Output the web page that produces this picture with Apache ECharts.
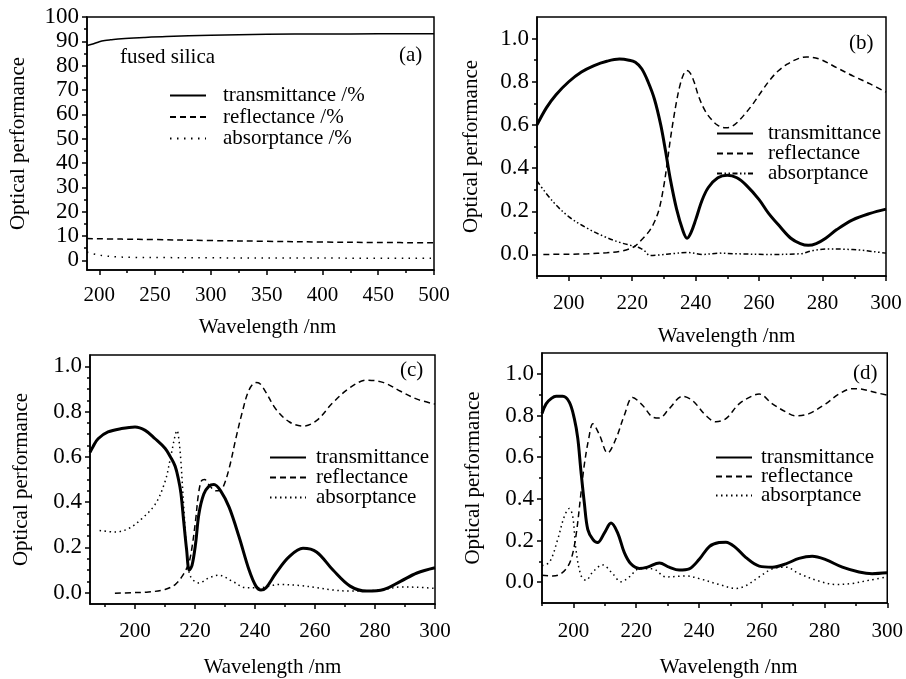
<!DOCTYPE html>
<html>
<head>
<meta charset="utf-8">
<script src="https://cdn.jsdelivr.net/npm/echarts@6/dist/echarts.min.js"></script>
<style>
html,body{margin:0;padding:0;background:#fff;}
#chart{width:906px;height:679px;}
</style>
</head>
<body>
<div id="chart"></div>
<script>
// ---------------- DATA ----------------
// Panel (a): fused silica, percent
const a_transmittance = [[189,88.3],[195,89.0],[200,89.8],[205,90.3],[210,90.6],[220,91.1],[240,91.6],[260,92.0],[300,92.5],[350,92.9],[400,93.0],[450,93.1],[500,93.1]];
const a_reflectance = [[189,8.9],[220,8.7],[250,8.5],[300,8.1],[350,7.8],[400,7.5],[450,7.3],[500,7.2]];
const a_absorptance = [[189,3.4],[195,2.6],[200,2.1],[205,1.8],[215,1.4],[230,1.2],[260,1.1],[300,1.0],[400,0.9],[500,0.8]];

// Panel (b)
const b_transmittance = [[190,0.60],[193,0.68],[196,0.74],[200,0.80],[204,0.845],[208,0.875],[212,0.895],[216,0.905],[219,0.90],[221,0.89],[223,0.86],[225,0.80],[227,0.72],[229,0.60],[230.5,0.48],[232,0.35],[234,0.21],[236,0.11],[237.3,0.075],[238.5,0.10],[240,0.16],[242,0.25],[244,0.31],[247,0.355],[250,0.367],[253,0.355],[256,0.32],[260,0.254],[263,0.19],[266.5,0.13],[270,0.075],[273,0.05],[275.5,0.042],[278,0.05],[281,0.075],[284.5,0.115],[289.5,0.16],[295,0.19],[300,0.21]];
const b_reflectance = [[192,0.0],[200,0.001],[206,0.003],[212,0.008],[216,0.014],[219,0.025],[221,0.04],[223.5,0.076],[225.5,0.11],[227,0.15],[228.5,0.21],[230,0.32],[231,0.42],[232,0.53],[233,0.625],[234,0.71],[235,0.78],[236.2,0.835],[237.2,0.852],[238.3,0.84],[239.5,0.80],[241,0.73],[243,0.665],[245,0.625],[247,0.598],[249.3,0.587],[251,0.59],[253,0.61],[255.5,0.65],[258.2,0.70],[261,0.76],[263.5,0.81],[266,0.85],[268.7,0.88],[272,0.905],[275,0.915],[279,0.905],[284.5,0.865],[289.7,0.826],[295,0.79],[300,0.752]];
const b_absorptance = [[190,0.34],[195,0.245],[200,0.175],[205.7,0.122],[211,0.084],[216,0.056],[220,0.04],[222.4,0.03],[224,0.015],[225.6,-0.005],[228.8,-0.002],[233,0.004],[237.2,0.009],[242.4,0.0],[247.5,0.006],[252.9,0.003],[263.4,0.0],[273,0.003],[277,0.018],[282,0.025],[287,0.024],[292,0.02],[296,0.013],[300,0.006]];

// Panel (c)
const c_transmittance = [[185,0.62],[186,0.645],[187.7,0.68],[191,0.71],[195.5,0.725],[200,0.732],[203.4,0.717],[206.7,0.68],[210,0.638],[211.8,0.60],[213.4,0.558],[214.5,0.50],[215.3,0.44],[216.2,0.32],[217.2,0.19],[218.1,0.10],[219,0.12],[220.2,0.217],[221.3,0.348],[222.9,0.435],[224.6,0.47],[226.3,0.478],[228.6,0.449],[231.4,0.377],[234.7,0.246],[238,0.101],[240.3,0.029],[242,0.012],[243.7,0.022],[247,0.087],[251.5,0.16],[256,0.196],[260.5,0.18],[266,0.10],[271.7,0.029],[277.3,0.007],[282.9,0.014],[288.5,0.05],[294,0.087],[300,0.11]];
const c_reflectance = [[193.3,-0.003],[198.9,0],[204.5,0.003],[210,0.014],[213.4,0.036],[215.7,0.072],[217.9,0.13],[219,0.2],[220.2,0.32],[221.2,0.44],[222.2,0.495],[223.2,0.50],[224.6,0.478],[226.9,0.45],[228.3,0.452],[229.5,0.47],[231.4,0.55],[233.6,0.68],[235.8,0.80],[238,0.895],[240.3,0.928],[241.5,0.925],[243.7,0.884],[247,0.81],[251.5,0.754],[256,0.736],[260.5,0.76],[266,0.84],[271.7,0.906],[277.3,0.939],[282.9,0.928],[288.5,0.89],[294,0.855],[300,0.833]];
const c_absorptance = [[188.2,0.275],[193.3,0.268],[197.8,0.283],[202.2,0.326],[206.7,0.39],[210,0.49],[211.8,0.594],[213.4,0.696],[214,0.717],[214.6,0.68],[215.3,0.58],[216.2,0.39],[217.4,0.16],[218.5,0.072],[221.3,0.043],[224.6,0.065],[228,0.077],[232.5,0.05],[237,0.022],[241.4,0.022],[248.2,0.036],[254.9,0.032],[260.5,0.022],[266,0.012],[271.7,0.007],[277,0.008],[282.9,0.014],[288.5,0.025],[294,0.024],[300,0.019]];

// Panel (d)
const d_transmittance = [[190,0.81],[191.3,0.856],[193,0.882],[194.5,0.892],[196.6,0.892],[198.7,0.864],[200.3,0.785],[201.4,0.69],[202.4,0.534],[203.5,0.378],[204.6,0.252],[206.2,0.205],[207.7,0.19],[209.9,0.237],[212,0.284],[214.1,0.237],[216.2,0.143],[218.3,0.088],[221,0.066],[223.6,0.072],[227.4,0.092],[230.5,0.072],[233.7,0.058],[236.9,0.064],[240.1,0.11],[243.3,0.171],[246.4,0.19],[248.6,0.192],[251.7,0.166],[254.9,0.119],[259.2,0.077],[263.4,0.072],[267.7,0.088],[271.9,0.114],[276.1,0.124],[280.4,0.108],[285.7,0.072],[291,0.049],[295.2,0.041],[300,0.045]];
const d_reflectance = [[190,0.033],[193.4,0.03],[195.5,0.036],[197.7,0.064],[199.3,0.111],[200.8,0.22],[202.4,0.425],[203.5,0.566],[204.9,0.69],[206.2,0.76],[208.3,0.707],[210.9,0.62],[213.6,0.69],[216.2,0.80],[218.9,0.887],[222.1,0.848],[225.2,0.793],[227.4,0.788],[230.5,0.832],[234.8,0.892],[238,0.871],[242.2,0.80],[245.4,0.77],[248.6,0.785],[252.8,0.856],[257.1,0.895],[259.2,0.903],[263.4,0.856],[267.7,0.817],[270.8,0.798],[275.1,0.809],[280.4,0.856],[284.6,0.903],[288.9,0.929],[292,0.926],[296.3,0.91],[300,0.898]];
const d_absorptance = [[190,0.08],[192.4,0.096],[195,0.205],[197.1,0.315],[198.7,0.354],[199.8,0.315],[200.8,0.158],[202.4,0.033],[204,0.009],[206.2,0.049],[209.3,0.083],[212.5,0.041],[215.2,0.002],[217.8,0.025],[221,0.064],[225.2,0.064],[229.5,0.025],[235.8,0.03],[240.1,0.017],[246.4,-0.011],[251.7,-0.03],[254.9,-0.017],[259.2,0.025],[263.4,0.064],[267.7,0.072],[271.9,0.041],[278.3,0.005],[283.6,-0.011],[288.9,-0.006],[294.2,0.009],[300,0.025]];

// Tick values
const a_xMajor = [200,250,300,350,400,450,500];
const a_xMinor = [225,275,325,375,425,475];
const a_yMajor = [0,10,20,30,40,50,60,70,80,90,100];
const a_yMinor = [5,15,25,35,45,55,65,75,85,95];
const bcd_xMajor = [200,220,240,260,280,300];
const bcd_xMinor = [190,210,230,250,270,290];
const bcd_yMajor = [0,0.2,0.4,0.6,0.8,1.0];
const bd_yMinor = [0.1,0.3,0.5,0.7,0.9];
const c_yMinor = [0.05,0.1,0.15,0.25,0.3,0.35,0.45,0.5,0.55,0.65,0.7,0.75,0.85,0.9,0.95];

// Labels
const a_names = ['transmittance /%','reflectance /%','absorptance /%'];
const names = ['transmittance','reflectance','absorptance'];
const panelLabels = ['(a)','(b)','(c)','(d)'];
const xTitle = 'Wavelength /nm';
const yTitle = 'Optical performance';

// ---------------- LAYOUT / STYLE ----------------
const FONT = 'Liberation Serif';
const FS = 21;
const grids = [
  {left:87, top:17, width:347, height:253},
  {left:537, top:17, width:349, height:259},
  {left:90, top:355, width:345, height:253},
  {left:542, top:353, width:346, height:254}
];
const xRanges = [[189,500],[190,300],[185,300],[190,300]];
const yRanges = [[-4,100],[-0.1,1.1],[-0.05,1.05],[-0.1,1.1]];
const xMajors = [a_xMajor,bcd_xMajor,bcd_xMajor,bcd_xMajor];
const xMinors = [a_xMinor,bcd_xMinor,bcd_xMinor,bcd_xMinor];
const yMajors = [a_yMajor,bcd_yMajor,bcd_yMajor,bcd_yMajor];
const yMinors = [a_yMinor,bd_yMinor,c_yMinor,bd_yMinor];
const xLabelMargin = [15,17,17,18];
const xNameGap = [47,50,53,54];
const xNamePad = [14,30,20,28];
const yNameGap = [58,55,58,58];

const xAxes = [], yAxes = [];
grids.forEach((g,i)=>{
  const yFmt = i===0 ? (v=>String(Math.round(v))) : (v=>v.toFixed(1));
  xAxes.push({
    gridIndex:i, type:'value', position:'bottom', min:xRanges[i][0], max:xRanges[i][1],
    axisLine:{show:true, onZero:false, lineStyle:{color:'#000', width:1.5}},
    axisTick:{show:true, inside:false, length:5, lineStyle:{color:'#000', width:1.5}, customValues:xMajors[i]},
    axisLabel:{show:true, customValues:xMajors[i], margin:xLabelMargin[i], color:'#000', fontFamily:FONT, fontSize:FS},
    splitLine:{show:false},
    name:xTitle, nameLocation:'middle', nameGap:xNameGap[i],
    nameTextStyle:{color:'#000', fontFamily:FONT, fontSize:FS, padding:[0,0,0,xNamePad[i]]}
  });
  xAxes.push({
    gridIndex:i, type:'value', position:'bottom', min:xRanges[i][0], max:xRanges[i][1],
    axisLine:{show:false, onZero:false},
    axisTick:{show:true, inside:false, length:3, lineStyle:{color:'#000', width:1.5}, customValues:xMinors[i]},
    axisLabel:{show:false}, splitLine:{show:false}
  });
  yAxes.push({
    gridIndex:i, type:'value', position:'left', min:yRanges[i][0], max:yRanges[i][1],
    axisLine:{show:true, onZero:false, lineStyle:{color:'#000', width:1.5}},
    axisTick:{show:true, inside:false, length:5, lineStyle:{color:'#000', width:1.5}, customValues:yMajors[i]},
    axisLabel:{show:true, customValues:yMajors[i], margin:8, color:'#000', fontFamily:FONT, fontSize:23, formatter:yFmt},
    splitLine:{show:false},
    name:yTitle, nameLocation:'middle', nameGap:yNameGap[i],
    nameTextStyle:{color:'#000', fontFamily:FONT, fontSize:FS}
  });
  yAxes.push({
    gridIndex:i, type:'value', position:'left', min:yRanges[i][0], max:yRanges[i][1],
    axisLine:{show:false, onZero:false},
    axisTick:{show:true, inside:false, length:3, lineStyle:{color:'#000', width:1.5}, customValues:yMinors[i]},
    axisLabel:{show:false}, splitLine:{show:false}
  });
});

const DASH = [6,4];
const DOT = [1.5,3.5];
const DASHDOTDOT = [5,2.5,1.5,2.5,1.5,2.5];
const panelData = [
  [a_transmittance,a_reflectance,a_absorptance],
  [b_transmittance,b_reflectance,b_absorptance],
  [c_transmittance,c_reflectance,c_absorptance],
  [d_transmittance,d_reflectance,d_absorptance]
];
const styles = [
  [{width:1.5,type:'solid'},{width:1.5,type:DASH},{width:1.5,type:[1.5,5.5]}],
  [{width:3,type:'solid'},{width:1.5,type:DASH},{width:1.5,type:DASHDOTDOT}],
  [{width:3,type:'solid'},{width:1.5,type:DASH},{width:1.5,type:DOT}],
  [{width:3,type:'solid'},{width:1.5,type:DASH},{width:1.5,type:DOT}]
];
const series = [];
panelData.forEach((arr,i)=>{
  arr.forEach((d,k)=>{
    const nm = (i===0 ? a_names[k] : names[k]);
    series.push({
      name: 'p'+i+':'+nm, type:'line', xAxisIndex:2*i, yAxisIndex:2*i,
      data:d, symbol:'none', smooth:0.35, silent:true, animation:false,
      color:'#000',
      lineStyle:{color:'#000', width:styles[i][k].width, type:styles[i][k].type}
    });
  });
});

const legendPos = [
  {left:169, top:85, gap:0.5, pad:12},
  {left:716, top:123, gap:-1, pad:10},
  {left:269, top:447, gap:-1, pad:5},
  {left:715, top:447, gap:-2, pad:4}
];
const legends = legendPos.map((p,i)=>({
  orient:'vertical', left:p.left, top:p.top, padding:0, itemGap:p.gap,
  itemWidth:36, itemHeight:14, selectedMode:false,
  itemStyle:{color:'rgba(0,0,0,0)', borderColor:'rgba(0,0,0,0)', borderWidth:0, opacity:0},
  data:(i===0?a_names:names).map(n=>'p'+i+':'+n),
  formatter:n=>n.slice(n.indexOf(':')+1),
  textStyle:{color:'#000', fontFamily:FONT, fontSize:FS, lineHeight:21, padding:[0,0,0,p.pad]}
}));

const labelPos = [[399,55],[849,43],[400,370],[853,373]];
const graphics = labelPos.map((p,i)=>({
  type:'text', x:p[0], y:p[1], silent:true,
  style:{text:panelLabels[i], fill:'#000', fontFamily:FONT, fontSize:FS, verticalAlign:'middle'}
}));
graphics.push({type:'text', x:120, y:57, silent:true,
  style:{text:'fused silica', fill:'#000', fontFamily:FONT, fontSize:FS, verticalAlign:'middle'}});

const chart = echarts.init(document.getElementById('chart'), null, {renderer:'canvas'});
chart.setOption({
  backgroundColor:'#fff',
  animation:false,
  grid: grids.map(g=>Object.assign({show:true, borderColor:'#000', borderWidth:1.5, backgroundColor:'rgba(0,0,0,0)', containLabel:false}, g)),
  xAxis:xAxes, yAxis:yAxes,
  legend:legends,
  graphic:graphics,
  series:series
});
</script>
</body>
</html>
